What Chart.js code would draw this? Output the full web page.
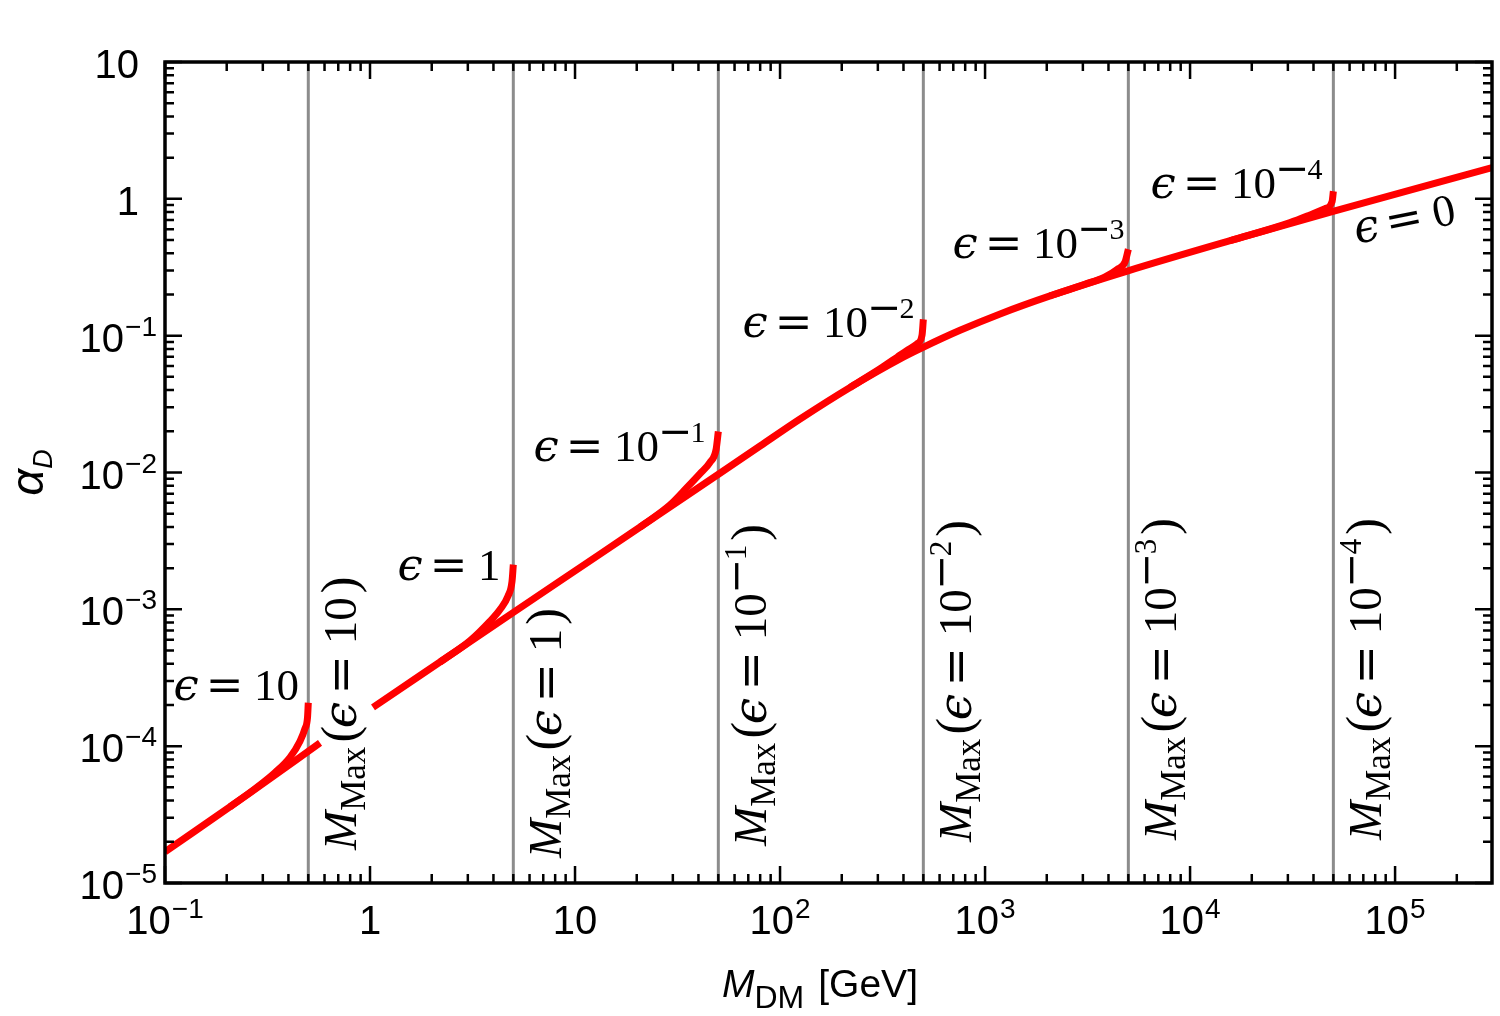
<!DOCTYPE html>
<html><head><meta charset="utf-8">
<script src="https://cdn.jsdelivr.net/npm/chart.js@4.4.1/dist/chart.umd.min.js"></script>
<style>html,body{margin:0;padding:0;background:#fff}canvas{display:block}</style>
</head><body>
<canvas id="c" width="1500" height="1016"></canvas>
<script>
// ---------------- data ----------------
const xMin = 0.1, xMax = 2.97e5, yMin = 1e-5, yMax = 10;
const xTickVals = [0.1, 1, 10, 100, 1000, 10000, 100000];
const xTickBase = ['10', '1', '10', '10', '10', '10', '10'];
const xTickExp  = ['−1', '', '', '2', '3', '4', '5'];
const yTickVals = [1e-5, 1e-4, 1e-3, 1e-2, 1e-1, 1, 10];
const yTickBase = ['10', '10', '10', '10', '10', '1', '10'];
const yTickExp  = ['−5', '−4', '−3', '−2', '−1', '', ''];

// epsilon = 0 curve (null = gap behind the label)
const mainX = [0.1, 0.2598, 0.5704, 0.75, 1.034, 4.985, 13.24, 49.85, 79.9, 125.2, 219.5, 384.9, 498.4, 755.1, 1184, 2076, 4984, 15670, 49840, 297300];
const mainY = [1.69e-5, 4.555e-5, 1.058e-4, null, 1.924e-4, 9.454e-4, 2.533e-3, 9.667e-3, 0.01562, 0.02462, 0.04186, 0.06767, 0.08214, 0.1094, 0.1442, 0.1953, 0.2975, 0.4941, 0.8093, 1.690];

// branches for finite epsilon (they leave the epsilon = 0 curve and end at M_Max)
const eps10X  = [0.2075, 0.2748, 0.3440, 0.4073, 0.4555, 0.4818, 0.4955, 0.5];
const eps10Y  = [3.603e-5, 4.882e-5, 6.414e-5, 8.299e-5, 1.088e-4, 1.346e-4, 1.614e-4, 2.075e-4];
const eps1X   = [2.195, 3.075, 3.850, 4.306, 4.712, 4.928, 5];
const eps1Y   = [4.119e-4, 5.897e-4, 8.191e-4, 9.977e-4, 1.250e-3, 1.602e-3, 2.122e-3];
const eps01X  = [20.75, 29.07, 35.18, 40.72, 45.55, 48.73, 50];
const eps01Y  = [3.99e-3, 5.801e-3, 7.777e-3, 9.815e-3, 0.01185, 0.01466, 0.01995];
const eps001X = [219.5, 307.5, 372.1, 416.5, 465.9, 492.8, 500];
const eps001Y = [0.04186, 0.05728, 0.06952, 0.07806, 0.08713, 0.1009, 0.1316];
const eps1e3X = [2076, 3075, 3849, 4405, 4819, 5000];
const eps1e3Y = [0.1953, 0.2378, 0.2694, 0.3047, 0.3462, 0.4281];
const eps1e4X = [15670, 30750, 38490, 45550, 49290, 50000];
const eps1e4Y = [0.4941, 0.6705, 0.7631, 0.8472, 0.9532, 1.137];

// maximal masses (vertical lines)
const mMax = [0.5, 5, 50, 500, 5000, 50000];
const epsBase = ['10', '1', '10', '10', '10', '10'];
const epsExp  = ['', '', '1', '2', '3', '4'];

// ---------------- styles / layout ----------------
const RED = '#ff0000', GRAY = '#8c8c8c';
const SANS = '"Liberation Sans", Arial, Helvetica, sans-serif';
const SERIF = '"Liberation Serif", "Times New Roman", serif';
const DVS = '"DejaVu Serif", serif';
const FS_EPS = 45, FS_M = 47;
// left-baseline pixel positions for epsilon labels
const epsLabelPos = [[177, 700], [401, 580], [537, 461], [746, 337], [956, 258], [1154, 198]];
const mLabelStartY = [850, 858, 846, 842, 840, 840];

function drawRuns(ctx, x, y, items, angle, align) {
  ctx.save();
  ctx.translate(x, y);
  if (angle) ctx.rotate(angle);
  ctx.textBaseline = 'alphabetic';
  ctx.textAlign = 'left';
  ctx.fillStyle = '#000';
  let total = 0;
  const ws = items.map(it => {
    ctx.font = it.f;
    const w = ctx.measureText(it.t).width;
    const adv = it.box != null ? it.box : w;
    total += (it.pre || 0) + adv + (it.post || 0);
    return [w, adv];
  });
  let cx = align === 'center' ? -total / 2 : align === 'right' ? -total : 0;
  items.forEach((it, i) => {
    cx += it.pre || 0;
    ctx.font = it.f;
    const [w, adv] = ws[i];
    ctx.fillText(it.t, cx + (adv - w) / 2, -(it.rise || 0));
    cx += adv + (it.post || 0);
  });
  ctx.restore();
}

function epsItems(base, exp, s) {
  const items = [
    { t: 'ϵ', f: `italic ${s}px ${DVS}`, box: 0.41 * s },
    { t: '=', f: `${s}px ${DVS}`, box: 0.78 * s, pre: 0.26 * s, post: 0.26 * s },
    { t: base, f: `${s}px ${SERIF}` }
  ];
  if (exp) {
    items.push({ t: '−', f: `${Math.round(0.9 * s)}px ${DVS}`, box: 0.68 * s, rise: 0.35 * s, pre: 1 });
    items.push({ t: exp, f: `${Math.round(0.66 * s)}px ${SERIF}`, rise: 0.43 * s });
  }
  return items;
}

function sansLabel(base, exp) {
  const items = [{ t: base, f: `40px ${SANS}` }];
  if (exp) items.push({ t: exp, f: `28px ${SANS}`, rise: 16, pre: 1 });
  return items;
}

const bgPlugin = {
  id: 'bg',
  beforeDraw(chart) {
    const ctx = chart.ctx;
    ctx.save(); ctx.fillStyle = '#fff'; ctx.fillRect(0, 0, chart.width, chart.height); ctx.restore();
  }
};

const framePlugin = {
  id: 'frame',
  afterDraw(chart) {
    const { ctx, chartArea: a, scales: { x, y } } = chart;
    ctx.save();
    ctx.strokeStyle = '#000';
    ctx.lineWidth = 2.5;
    ctx.beginPath();
    for (let e = -1; e <= 5; e++) {
      for (let m = 1; m <= 9; m++) {
        const v = m * Math.pow(10, e);
        if (v < xMin * 0.999 || v > xMax * 1.001) continue;
        const px = x.getPixelForValue(v);
        const len = m === 1 ? 17 : 9;
        ctx.moveTo(px, a.bottom); ctx.lineTo(px, a.bottom - len);
        ctx.moveTo(px, a.top); ctx.lineTo(px, a.top + len);
      }
    }
    for (let e = -5; e <= 1; e++) {
      for (let m = 1; m <= 9; m++) {
        const v = m * Math.pow(10, e);
        if (v < yMin * 0.999 || v > yMax * 1.001) continue;
        const py = y.getPixelForValue(v);
        const len = m === 1 ? 17 : 9;
        ctx.moveTo(a.left, py); ctx.lineTo(a.left + len, py);
        ctx.moveTo(a.right, py); ctx.lineTo(a.right - len, py);
      }
    }
    ctx.stroke();
    ctx.lineWidth = 3.5;
    ctx.strokeRect(a.left, a.top, a.right - a.left, a.bottom - a.top);
    ctx.restore();

    // tick labels
    xTickVals.forEach((v, i) => {
      drawRuns(ctx, x.getPixelForValue(v), a.bottom + 51, sansLabel(xTickBase[i], xTickExp[i]), 0, 'center');
    });
    yTickVals.forEach((v, i) => {
      const rx = yTickExp[i] ? a.left - 8 : a.left - 26;
      drawRuns(ctx, rx, y.getPixelForValue(v) + 16, sansLabel(yTickBase[i], yTickExp[i]), 0, 'right');
    });

    // axis titles
    drawRuns(ctx, 722, 997, [
      { t: 'M', f: `italic 39px ${SANS}` },
      { t: 'DM', f: `32px ${SANS}`, rise: -11 },
      { t: '[GeV]', f: `39px ${SANS}`, pre: 14 }
    ], 0, 'left');
    drawRuns(ctx, 43, (a.top + a.bottom) / 2, [
      { t: 'α', f: `italic 47px ${SANS}` },
      { t: 'D', f: `italic 27px ${SANS}`, rise: -9 }
    ], -Math.PI / 2, 'center');

    // epsilon labels
    epsLabelPos.forEach((p, i) => {
      drawRuns(ctx, p[0], p[1], epsItems(epsBase[i], epsExp[i], FS_EPS), 0, 'left');
    });
    drawRuns(ctx, 1360, 243, epsItems('0', '', FS_EPS), -0.2, 'left');

    // M_Max labels
    mMax.forEach((m, i) => {
      const bx = x.getPixelForValue(m) + 48;
      const items = [
        { t: 'M', f: `italic ${FS_M}px ${SERIF}` },
        { t: 'Max', f: `35px ${SERIF}`, rise: -9, post: 3 },
        { t: '(', f: `50px ${SERIF}`, box: 19 }
      ].concat(epsItems(epsBase[i], epsExp[i], FS_M)).concat([
        { t: ')', f: `50px ${SERIF}`, box: 19, pre: 3 }
      ]);
      drawRuns(ctx, bx, mLabelStartY[i], items, -Math.PI / 2, 'left');
    });
  }
};

function pts(xs, ys) { return xs.map((v, i) => ({ x: v, y: ys[i] })); }
function redSet(xs, ys) {
  return { data: pts(xs, ys), borderColor: RED, borderWidth: 7, pointRadius: 0, showLine: true,
           fill: false, spanGaps: false, cubicInterpolationMode: 'monotone', borderCapStyle: 'butt',
           borderJoinStyle: 'round', clip: 0, order: 0 };
}

const datasets = [];
mMax.forEach(m => {
  datasets.push({ data: [{ x: m, y: yMin }, { x: m, y: yMax }], borderColor: GRAY, borderWidth: 3,
                  pointRadius: 0, showLine: true, fill: false, clip: 0, order: 10 });
});
datasets.push(redSet(mainX, mainY));
datasets.push(redSet(eps10X, eps10Y));
datasets.push(redSet(eps1X, eps1Y));
datasets.push(redSet(eps01X, eps01Y));
datasets.push(redSet(eps001X, eps001Y));
datasets.push(redSet(eps1e3X, eps1e3Y));
datasets.push(redSet(eps1e4X, eps1e4Y));

new Chart(document.getElementById('c'), {
  type: 'scatter',
  data: { datasets },
  options: {
    responsive: false,
    devicePixelRatio: 1,
    animation: false,
    layout: { padding: { left: 165, right: 8, top: 62, bottom: 133 } },
    plugins: { legend: { display: false }, tooltip: { enabled: false }, title: { display: false } },
    scales: {
      x: { type: 'logarithmic', min: xMin, max: xMax, display: false },
      y: { type: 'logarithmic', min: yMin, max: yMax, display: false }
    }
  },
  plugins: [bgPlugin, framePlugin]
});
</script>
</body></html>
